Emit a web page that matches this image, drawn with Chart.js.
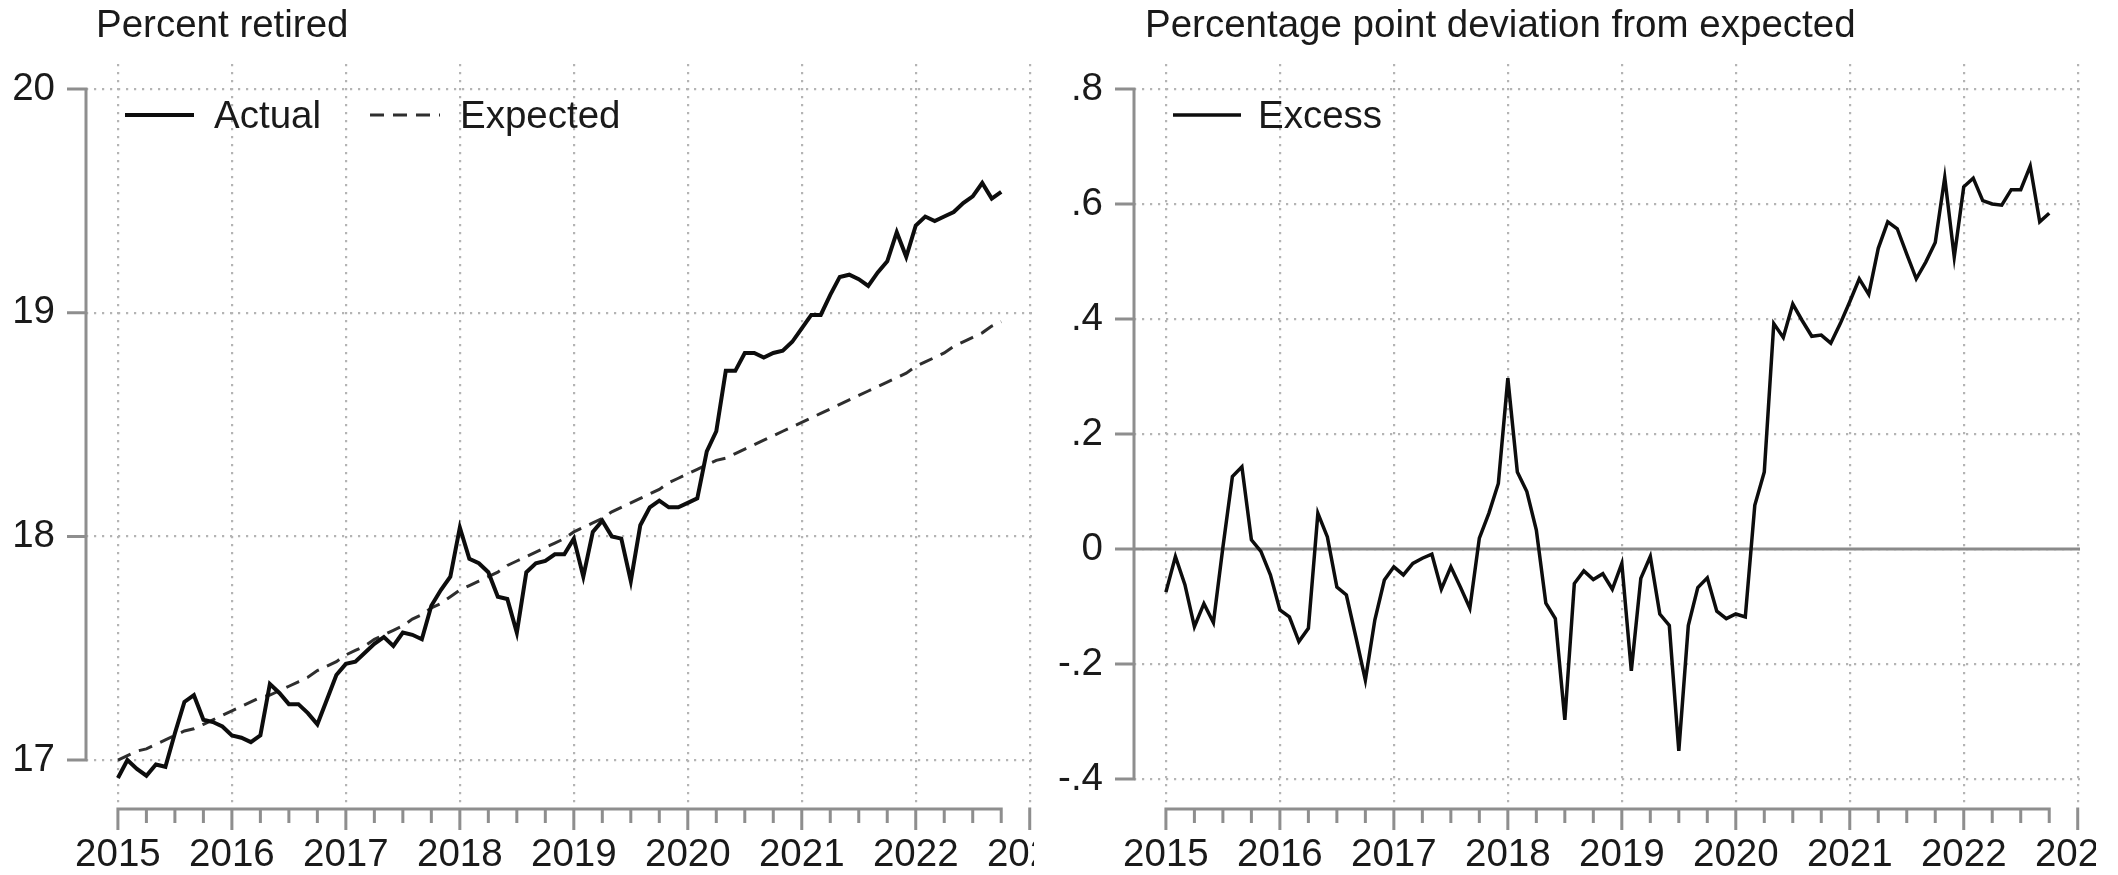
<!DOCTYPE html>
<html lang="en">
<head>
<meta charset="UTF-8">
<title>Percent retired and excess retirement</title>
<script src="https://cdn.jsdelivr.net/npm/chart.js"></script>
<style>
  html, body { margin: 0; padding: 0; background: #fff; }
  body { width: 2118px; height: 875px; position: relative; overflow: hidden; }
  canvas { position: absolute; top: 0; }
  #retiredChart { left: 0; }
  #excessChart { left: 1000px; }
</style>
</head>
<body>
<canvas id="retiredChart" width="1034" height="875"></canvas>
<canvas id="excessChart" width="1096" height="875"></canvas>
<script>
// monthly data, Jan 2015 .. Oct 2022
const firstYear = 2015;
const yearTicks = [2015, 2016, 2017, 2018, 2019, 2020, 2021, 2022, 2023];
const retiredTicks = [17, 18, 19, 20];
const retiredTickLabels = ['17', '18', '19', '20'];
const excessTicks = [-0.4, -0.2, 0, 0.2, 0.4, 0.6, 0.8];
const excessTickLabels = ['-.4', '-.2', '0', '.2', '.4', '.6', '.8'];

const actual = [
  16.92, 17.00, 16.96, 16.93, 16.98, 16.97, 17.12, 17.26, 17.29, 17.18, 17.17, 17.15,
  17.11, 17.10, 17.08, 17.11, 17.34, 17.30, 17.25, 17.25, 17.21, 17.16, 17.27, 17.38,
  17.43, 17.44, 17.48, 17.52, 17.55, 17.51, 17.57, 17.56, 17.54, 17.69, 17.76, 17.82,
  18.04, 17.90, 17.88, 17.84, 17.73, 17.72, 17.57, 17.84, 17.88, 17.89, 17.92, 17.92,
  17.99, 17.82, 18.02, 18.07, 18.00, 17.99, 17.80, 18.05, 18.13, 18.16, 18.13, 18.13,
  18.15, 18.17, 18.38, 18.47, 18.74, 18.74, 18.82, 18.82, 18.80, 18.82, 18.83, 18.87,
  18.93, 18.99, 18.99, 19.08, 19.16, 19.17, 19.15, 19.12, 19.18, 19.23, 19.36, 19.25,
  19.39, 19.43, 19.41, 19.43, 19.45, 19.49, 19.52, 19.58, 19.51, 19.54
];

const expected = [
  17.00, 17.02, 17.04, 17.05, 17.07, 17.09, 17.11, 17.13, 17.14, 17.16, 17.18, 17.20,
  17.22, 17.24, 17.26, 17.28, 17.29, 17.31, 17.33, 17.35, 17.37, 17.40, 17.42, 17.44,
  17.47, 17.49, 17.51, 17.54, 17.56, 17.58, 17.60, 17.63, 17.65, 17.68, 17.70, 17.73,
  17.76, 17.78, 17.80, 17.82, 17.84, 17.87, 17.89, 17.91, 17.93, 17.95, 17.97, 17.99,
  18.02, 18.04, 18.06, 18.08, 18.11, 18.13, 18.15, 18.17, 18.19, 18.21, 18.24, 18.26,
  18.28, 18.30, 18.32, 18.34, 18.35, 18.37, 18.39, 18.41, 18.43, 18.45, 18.47, 18.49,
  18.51, 18.53, 18.55, 18.57, 18.59, 18.61, 18.63, 18.65, 18.67, 18.69, 18.71, 18.73,
  18.76, 18.78, 18.80, 18.82, 18.85, 18.87, 18.89, 18.91, 18.94, 18.96
];

const excess = [
  -0.075, -0.013, -0.062, -0.135, -0.095, -0.128, 0.003, 0.126, 0.143, 0.016, -0.004, -0.045,
  -0.106, -0.118, -0.161, -0.138, 0.062, 0.021, -0.066, -0.080, -0.153, -0.228, -0.123, -0.054,
  -0.031, -0.045, -0.025, -0.016, -0.009, -0.070, -0.031, -0.066, -0.103, 0.019, 0.062, 0.114,
  0.297, 0.134, 0.100, 0.033, -0.094, -0.121, -0.297, -0.060, -0.038, -0.053, -0.043, -0.070,
  -0.025, -0.212, -0.051, -0.013, -0.113, -0.133, -0.351, -0.133, -0.067, -0.050, -0.108, -0.121,
  -0.113, -0.118, 0.076, 0.134, 0.392, 0.368, 0.426, 0.397, 0.370, 0.372, 0.358, 0.392,
  0.430, 0.470, 0.443, 0.523, 0.569, 0.557, 0.513, 0.470, 0.499, 0.533, 0.646, 0.508,
  0.630, 0.645, 0.606, 0.600, 0.598, 0.625, 0.625, 0.666, 0.569, 0.584
];

const textColor = '#1a1a1a';
const gridColor = '#b4b4b4';
const axisColor = '#8e8e8e';
const fontFamily = '"Liberation Sans", Arial, sans-serif';
const fontSize = 38.5;

Chart.defaults.font.family = fontFamily;
Chart.defaults.font.size = fontSize;
Chart.defaults.color = textColor;

function toPoints(values) {
  return values.map((v, i) => ({ x: firstYear + i / 12, y: v }));
}

// Stata-style frame: short axis lines, outside ticks, title and legend
const stataFrame = {
  id: 'stataFrame',
  beforeDatasetsDraw(chart, args, opts) {
    if (!opts.zeroLine) return;
    const { ctx, chartArea } = chart;
    const y0 = chart.scales.y.getPixelForValue(0);
    ctx.save();
    ctx.strokeStyle = '#8a8a8a';
    ctx.lineWidth = 3;
    ctx.beginPath();
    ctx.moveTo(chartArea.left, y0);
    ctx.lineTo(chartArea.right, y0);
    ctx.stroke();
    ctx.restore();
  },
  afterDraw(chart, args, opts) {
    const { ctx, chartArea } = chart;
    const xs = chart.scales.x;
    const ys = chart.scales.y;
    const yVals = opts.yTicks;
    ctx.save();
    ctx.strokeStyle = axisColor;
    ctx.lineWidth = 3;

    // y axis
    const ax = chartArea.left;
    const yTop = ys.getPixelForValue(yVals[yVals.length - 1]);
    const yBot = ys.getPixelForValue(yVals[0]);
    ctx.beginPath();
    ctx.moveTo(ax, yTop - 1.5);
    ctx.lineTo(ax, yBot + 1.5);
    yVals.forEach(v => {
      const py = ys.getPixelForValue(v);
      ctx.moveTo(ax - 19, py);
      ctx.lineTo(ax + 1.5, py);
    });
    ctx.stroke();

    // x axis
    const ay = chartArea.bottom + 6;
    const xFirst = firstYear;
    const xLast = firstYear + (opts.count - 1) / 12;
    ctx.beginPath();
    ctx.moveTo(xs.getPixelForValue(xFirst) - 1.5, ay);
    ctx.lineTo(xs.getPixelForValue(xLast) + 1.5, ay);
    yearTicks.forEach(v => {
      const px = xs.getPixelForValue(v);
      ctx.moveTo(px, ay - 1.5);
      ctx.lineTo(px, ay + 21);
    });
    for (let q = xFirst; q <= xLast + 1e-6; q += 0.25) {
      if (Math.abs(q - Math.round(q)) < 1e-6) continue;
      const px = xs.getPixelForValue(q);
      ctx.moveTo(px, ay - 1.5);
      ctx.lineTo(px, ay + 14);
    }
    ctx.stroke();

    // title
    ctx.fillStyle = textColor;
    ctx.font = fontSize + 'px ' + fontFamily;
    ctx.textBaseline = 'alphabetic';
    ctx.textAlign = 'left';
    ctx.fillText(opts.title, opts.titleX, 37);

    // legend
    opts.legend.forEach(item => {
      const ds = chart.data.datasets[item.dataset];
      ctx.strokeStyle = ds.borderColor;
      ctx.lineWidth = ds.borderWidth;
      ctx.setLineDash(ds.borderDash || []);
      ctx.beginPath();
      ctx.moveTo(item.x0, 115);
      ctx.lineTo(item.x1, 115);
      ctx.stroke();
      ctx.setLineDash([]);
      ctx.textBaseline = 'middle';
      ctx.fillText(ds.label, item.textX, 117);
    });
    ctx.restore();
  }
};

function makeOptions(cfg) {
  const gridOpts = { color: gridColor, lineWidth: 2.2, drawTicks: false };
  const borderOpts = { display: false, dash: [2.2, 5.8] };
  return {
    responsive: false,
    animation: false,
    events: [],
    layout: { padding: { left: 0, top: 64, right: cfg.padRight, bottom: 0 } },
    scales: {
      x: {
        type: 'linear',
        bounds: 'data',
        min: 2014.72,
        max: 2023.02,
        afterBuildTicks: s => { s.ticks = yearTicks.map(v => ({ value: v })); },
        afterFit: s => { s.height = 72; s.paddingLeft = 0; s.paddingRight = 0; },
        grid: gridOpts,
        border: borderOpts,
        ticks: { padding: 29, maxRotation: 0, autoSkip: false, callback: v => String(v) }
      },
      y: {
        type: 'linear',
        bounds: 'data',
        min: cfg.yMin,
        max: cfg.yMax,
        afterBuildTicks: s => { s.ticks = cfg.yTicks.map(v => ({ value: v })); },
        afterFit: s => { s.width = cfg.axisLeft; s.paddingTop = 0; s.paddingBottom = 0; },
        grid: gridOpts,
        border: borderOpts,
        ticks: { padding: 31, autoSkip: false, callback: (v, i) => cfg.yLabels[i] }
      }
    },
    plugins: {
      legend: { display: false },
      tooltip: { enabled: false },
      stataFrame: {
        yTicks: cfg.yTicks,
        count: cfg.count,
        title: cfg.title,
        titleX: cfg.titleX,
        zeroLine: cfg.zeroLine,
        legend: cfg.legend
      }
    }
  };
}

new Chart(document.getElementById('retiredChart'), {
  type: 'line',
  data: {
    datasets: [
      {
        label: 'Actual',
        data: toPoints(actual),
        borderColor: '#0d0d0d',
        borderWidth: 4,
        pointRadius: 0,
        tension: 0
      },
      {
        label: 'Expected',
        data: toPoints(expected),
        borderColor: '#2e2e2e',
        borderWidth: 3,
        borderDash: [14, 9],
        pointRadius: 0,
        tension: 0
      }
    ]
  },
  options: makeOptions({
    padRight: 2,
    axisLeft: 86,
    yMin: 16.808,
    yMax: 20.112,
    yTicks: retiredTicks,
    yLabels: retiredTickLabels,
    count: actual.length,
    title: 'Percent retired',
    titleX: 96,
    zeroLine: false,
    legend: [
      { dataset: 0, x0: 125, x1: 194, textX: 214 },
      { dataset: 1, x0: 370, x1: 440, textX: 460 }
    ]
  }),
  plugins: [stataFrame]
});

new Chart(document.getElementById('excessChart'), {
  type: 'line',
  data: {
    datasets: [
      {
        label: 'Excess',
        data: toPoints(excess),
        borderColor: '#0d0d0d',
        borderWidth: 3.5,
        pointRadius: 0,
        tension: 0
      }
    ]
  },
  options: makeOptions({
    padRight: 16,
    axisLeft: 134,
    yMin: -0.4417,
    yMax: 0.8435,
    yTicks: excessTicks,
    yLabels: excessTickLabels,
    count: excess.length,
    title: 'Percentage point deviation from expected',
    titleX: 145,
    zeroLine: true,
    legend: [
      { dataset: 0, x0: 173, x1: 241, textX: 258 }
    ]
  }),
  plugins: [stataFrame]
});
</script>
</body>
</html>
